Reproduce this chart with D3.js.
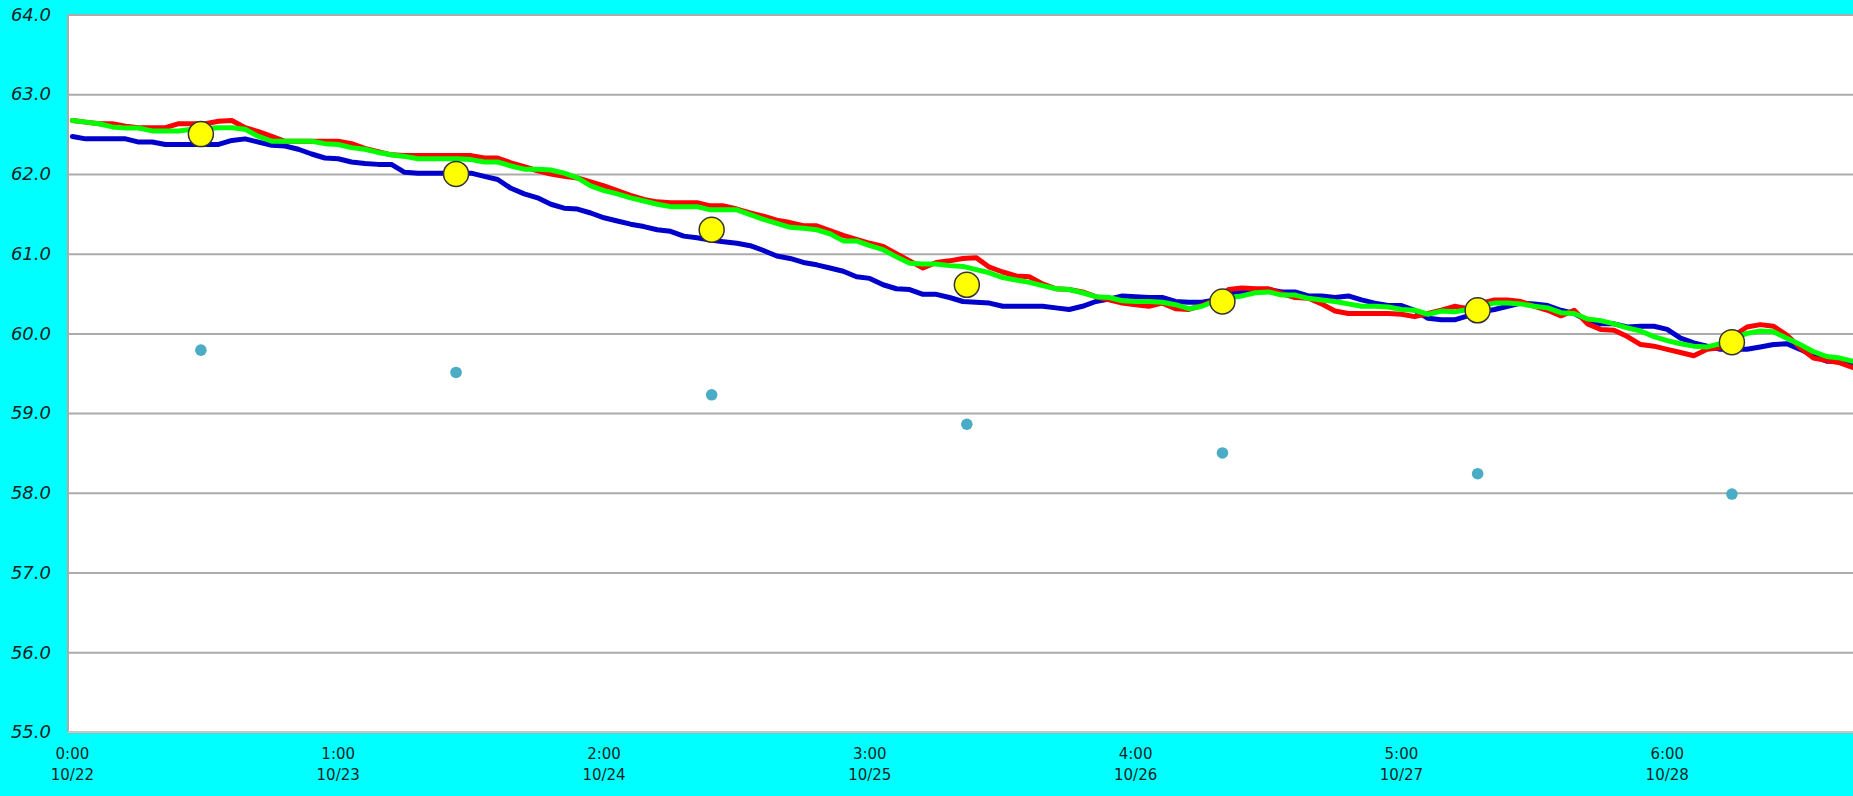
<!DOCTYPE html>
<html><head><meta charset="utf-8">
<script src="https://cdn.jsdelivr.net/npm/d3@7"></script>
<style>html,body{margin:0;padding:0;background:#00FFFF;overflow:hidden}</style>
</head><body>
<svg id="chart" width="1853" height="796"></svg>
<script>
// ---------- data ----------
const sampleStepMinutes = 3;
const blueSeries = [62.47,62.44,62.44,62.44,62.44,62.40,62.40,62.37,62.37,62.37,62.37,62.37,62.42,62.44,62.40,62.36,62.35,62.31,62.25,62.20,
62.19,62.15,62.13,62.12,62.12,62.02,62.01,62.01,62.01,62.01,62.01,61.97,61.93,61.82,61.75,61.70,61.62,61.57,61.56,61.51,
61.45,61.41,61.37,61.34,61.30,61.28,61.22,61.20,61.17,61.15,61.13,61.10,61.04,60.97,60.94,60.89,60.86,60.82,60.78,60.71,
60.69,60.61,60.56,60.55,60.49,60.49,60.45,60.40,60.39,60.38,60.34,60.34,60.34,60.34,60.32,60.30,60.34,60.40,60.43,60.47,
60.46,60.45,60.45,60.40,60.39,60.39,60.42,60.49,60.53,60.54,60.55,60.52,60.52,60.47,60.47,60.45,60.47,60.42,60.38,60.35,
60.35,60.29,60.19,60.17,60.17,60.22,60.27,60.30,60.34,60.38,60.37,60.35,60.29,60.25,60.16,60.12,60.12,60.08,60.09,60.09,
60.05,59.94,59.88,59.84,59.80,59.80,59.80,59.83,59.86,59.87,59.80,59.72,59.65,59.65,59.61];
const redSeries = [62.67,62.65,62.63,62.63,62.60,62.58,62.58,62.58,62.63,62.63,62.63,62.66,62.67,62.58,62.53,62.47,62.41,62.41,62.41,62.41,
62.41,62.38,62.32,62.28,62.24,62.23,62.23,62.23,62.23,62.23,62.23,62.20,62.20,62.14,62.09,62.04,62.00,61.97,61.95,61.90,
61.85,61.79,61.73,61.68,61.65,61.64,61.64,61.64,61.60,61.60,61.56,61.51,61.47,61.42,61.39,61.35,61.35,61.29,61.23,61.18,
61.13,61.09,61.00,60.91,60.82,60.89,60.91,60.94,60.95,60.83,60.77,60.72,60.71,60.62,60.56,60.55,60.52,60.46,60.42,60.38,
60.36,60.34,60.38,60.31,60.30,60.35,60.42,60.55,60.57,60.56,60.56,60.50,60.45,60.44,60.37,60.28,60.25,60.25,60.25,60.25,
60.24,60.21,60.25,60.29,60.34,60.31,60.38,60.42,60.42,60.40,60.34,60.29,60.22,60.29,60.12,60.05,60.04,59.96,59.86,59.84,
59.80,59.76,59.72,59.80,59.82,59.97,60.08,60.11,60.09,59.98,59.82,59.69,59.66,59.63,59.57];
const greenSeries = [62.67,62.65,62.63,62.59,62.575,62.575,62.54,62.54,62.54,62.56,62.57,62.58,62.58,62.56,62.47,62.41,62.41,62.41,62.41,62.38,
62.37,62.33,62.31,62.27,62.24,62.22,62.19,62.19,62.19,62.19,62.18,62.15,62.15,62.10,62.06,62.06,62.05,62.01,61.95,61.85,
61.79,61.75,61.70,61.66,61.62,61.59,61.59,61.59,61.55,61.55,61.55,61.49,61.43,61.38,61.33,61.32,61.30,61.25,61.16,61.16,
61.10,61.05,60.96,60.88,60.87,60.87,60.85,60.84,60.80,60.76,60.70,60.67,60.64,60.60,60.56,60.55,60.51,60.46,60.45,60.41,
60.40,60.40,60.39,60.36,60.31,60.34,60.41,60.45,60.47,60.51,60.52,60.48,60.48,60.44,60.42,60.40,60.37,60.34,60.34,60.33,
60.30,60.29,60.24,60.28,60.27,60.30,60.35,60.38,60.38,60.37,60.34,60.32,60.26,60.25,60.18,60.16,60.12,60.07,60.03,59.96,
59.91,59.87,59.84,59.83,59.87,59.94,60.00,60.03,60.02,59.94,59.86,59.77,59.71,59.69,59.65];
const markerMinutes = [29.0, 86.6, 144.3, 201.9, 259.6, 317.2, 374.6];
const yellowValues = [62.50, 62.00, 61.30, 60.61, 60.40, 60.29, 59.89];
const dotValues = [59.79, 59.51, 59.23, 58.86, 58.50, 58.24, 57.985];
const yTicks = [55, 56, 57, 58, 59, 60, 61, 62, 63, 64];
const hourTicks = [0, 1, 2, 3, 4, 5, 6];
const timeLabels = ["0:00", "1:00", "2:00", "3:00", "4:00", "5:00", "6:00"];
const dateLabels = ["10/22", "10/23", "10/24", "10/25", "10/26", "10/27", "10/28"];

// ---------- layout ----------
const W = 1853, H = 796;
const plot = {left: 68, right: 1853, top: 14.5, bottom: 732};
const svg = d3.select("#chart");
svg.append("rect").attr("width", W).attr("height", H).attr("fill", "#00FFFF");
svg.append("rect").attr("x", plot.left).attr("y", plot.top)
  .attr("width", plot.right - plot.left).attr("height", plot.bottom - plot.top).attr("fill", "#FFFFFF");

const x = d3.scaleLinear().domain([0, 402]).range([72.4, 1853.3]);
const y = d3.scaleLinear().domain([55, 64]).range([plot.bottom, plot.top]);

// gridlines + y labels
const yAxis = d3.axisLeft(y).tickValues(yTicks).tickFormat(d3.format(".1f"))
  .tickSizeInner(-(plot.right - plot.left)).tickSizeOuter(0).tickPadding(17);
const gy = svg.append("g").attr("transform", `translate(${plot.left},0)`).call(yAxis);
gy.select(".domain").remove();
gy.selectAll(".tick line").attr("stroke", "#ABABAB").attr("stroke-width", 2);
gy.selectAll(".tick text").attr("font-family", "'DejaVu Sans', Verdana, sans-serif")
  .attr("font-style", "italic").attr("font-size", 18).attr("fill", "#0d1f26");

// axis lines
svg.append("line").attr("x1", plot.left).attr("x2", plot.left).attr("y1", plot.top).attr("y2", plot.bottom)
  .attr("stroke", "#ABABAB").attr("stroke-width", 2);
svg.append("line").attr("x1", plot.left).attr("x2", plot.right).attr("y1", plot.bottom).attr("y2", plot.bottom)
  .attr("stroke", "#C8C8C8").attr("stroke-width", 2);

// x labels
const xl = svg.append("g").attr("font-family", "'DejaVu Sans', Verdana, sans-serif")
  .attr("font-size", 15).attr("fill", "#0d1f26").attr("text-anchor", "middle");
hourTicks.forEach((h, i) => {
  const t = xl.append("text").attr("x", x(h * 60)).attr("y", 759);
  t.append("tspan").attr("x", x(h * 60)).text(timeLabels[i]);
  t.append("tspan").attr("x", x(h * 60)).attr("dy", 21).text(dateLabels[i]);
});

// lines
const line = d3.line().x((d, i) => x(i * sampleStepMinutes)).y(d => y(d));
const gl = svg.append("g");
[[blueSeries, "#0000CC"], [redSeries, "#FF0000"], [greenSeries, "#00FF00"]].forEach(([s, c]) => {
  gl.append("path").datum(s).attr("d", line).attr("fill", "none").attr("stroke", c)
    .attr("stroke-width", 5).attr("stroke-linejoin", "round").attr("stroke-linecap", "round");
});

// markers
svg.append("g").selectAll("circle").data(dotValues).join("circle")
  .attr("cx", (d, i) => x(markerMinutes[i])).attr("cy", d => y(d)).attr("r", 5.8).attr("fill", "#4BACC6");
svg.append("g").selectAll("circle").data(yellowValues).join("circle")
  .attr("cx", (d, i) => x(markerMinutes[i])).attr("cy", d => y(d)).attr("r", 12.5)
  .attr("fill", "#FFFF00").attr("stroke", "#333333").attr("stroke-width", 1.5);
</script>
</body></html>
